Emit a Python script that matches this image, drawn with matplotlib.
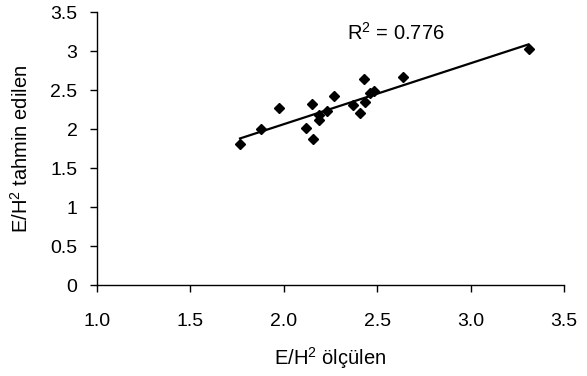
import numpy as np
import matplotlib
matplotlib.use("Agg")
import matplotlib.pyplot as plt
from matplotlib.ticker import FuncFormatter

plt.rcParams['font.family'] = ['Liberation Sans', 'DejaVu Sans']
plt.rcParams['mathtext.fontset'] = 'custom'
plt.rcParams['mathtext.rm'] = 'Liberation Sans'
plt.rcParams['mathtext.it'] = 'Liberation Sans'

# measured vs predicted E/H^2
measured = [1.766, 1.876, 1.972, 2.118, 2.150, 2.157, 2.188, 2.186, 2.229, 2.268,
            2.372, 2.407, 2.437, 2.429, 2.462, 2.482, 2.636, 3.310]
predicted = [1.813, 2.003, 2.268, 2.020, 2.326, 1.876, 2.115, 2.185, 2.236, 2.430,
             2.310, 2.215, 2.350, 2.640, 2.470, 2.495, 2.678, 3.026]
r2_text = "R$^2$ = 0.776"

fig = plt.figure(figsize=(5.87, 3.76), dpi=100)
ax = fig.add_axes([0.165, 0.241, 0.796, 0.726])

ax.plot(measured, predicted, 'D', color='black', markersize=5.5, zorder=3)

coef = np.polyfit(measured, predicted, 1)
xs = np.array([min(measured), max(measured)])
ax.plot(xs, np.polyval(coef, xs), color='black', linewidth=1.6, zorder=2)

ax.text(2.34, 3.24, r2_text, fontsize=14.5, va='center', ha='left')

ax.set_xlim(1.0, 3.5)
ax.set_ylim(0, 3.5)
ax.set_xticks(np.arange(1.0, 3.51, 0.5))
ax.set_yticks(np.arange(0, 3.51, 0.5))
ax.xaxis.set_major_formatter(FuncFormatter(lambda v, p: f"{v:.1f}"))
ax.yaxis.set_major_formatter(FuncFormatter(lambda v, p: f"{v:g}"))
ax.tick_params(labelsize=14, length=5, width=1, direction='out')
ax.tick_params(axis='x', pad=15)
ax.tick_params(axis='y', pad=9)

for s in ['top', 'right']:
    ax.spines[s].set_visible(False)
for s in ['left', 'bottom']:
    ax.spines[s].set_linewidth(1)

ax.set_xlabel("E/H$^2$ ölçülen", fontsize=14.5)
ax.set_ylabel("E/H$^2$ tahmin edilen", fontsize=14.5)
ax.xaxis.set_label_coords(0.5, -0.22)
ax.yaxis.set_label_coords(-0.14, 0.5)

fig.savefig("out.png", dpi=100)
